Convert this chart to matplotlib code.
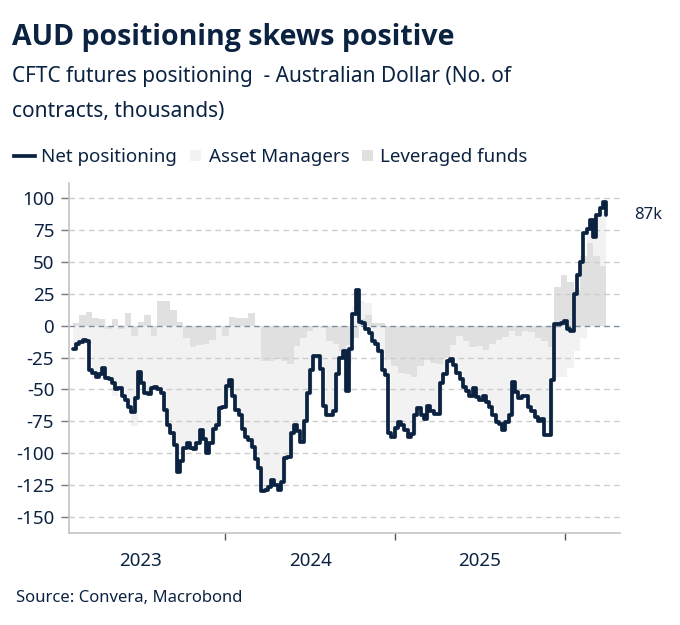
import numpy as np
import pandas as pd
import matplotlib
matplotlib.use("Agg")
import matplotlib.pyplot as plt
import matplotlib.dates as mdates
from matplotlib.lines import Line2D
from matplotlib.patches import Rectangle

plt.rcParams['font.family'] = ['Noto Sans', 'DejaVu Sans']
plt.rcParams['axes.unicode_minus'] = False

# weekly net positioning, thousands of contracts (CFTC, Tuesdays)
net_start = '2023-02-07'
net = [-18, -14, -13, -11, -12, -35, -37, -40, -38, -33,
       -41, -42, -45, -50, -49, -55, -58, -64, -68, -57,
       -36, -45, -53, -54, -49, -48, -50, -53, -66, -78,
       -84, -94, -115, -106, -96, -92, -96, -97, -92, -82,
       -89, -100, -92, -81, -78, -65, -64, -47, -43, -55,
       -66, -70, -81, -87, -90, -95, -105, -112, -130, -129,
       -127, -121, -125, -129, -123, -104, -103, -84, -78, -83,
       -91, -75, -53, -35, -24, -24, -34, -63, -70, -70,
       -67, -38, -25, -20, -51, -18, 9, 28, 3, 2,
       -3, -6, -12, -14, -20, -35, -39, -84, -87, -80,
       -76, -78, -82, -87, -85, -70, -65, -70, -73, -63,
       -67, -69, -69, -45, -38, -28, -26, -31, -37, -42,
       -48, -51, -55, -49, -56, -58, -55, -60, -64, -70,
       -76, -77, -82, -76, -70, -44, -52, -57, -55, -55,
       -64, -67, -72, -75, -73, -86, -86, -43, 1, 1,
       2, 4, -3, -4, 25, 40, 50, 73, 76, 83,
       70, 87, 92, 97, 87]

# fortnightly readings of the two trader groups
lev_funds = [2, 8, 11, 6, 5, -3, 5, -3, 10, -8,
             3, 8, -8, 19, 19, 12, 3, -10, -17, -15,
             -14, -11, 0, -8, 7, 6, 6, 10, 0, -28,
             -28, -26, -28, -30, -16, -10, -4, -1, -2, -12,
             -14, -20, -15, -10, 5, 8, 2, 2, -27, -32,
             -37, -38, -40, -32, -27, -29, -30, -25, -15, -8,
             -12, -17, -16, -19, -14, -11, -9, -4, -8, -4,
             -5, -10, -12, -17, 30, 40, 34, 28, 55, 65,
             55, 47, 48]
asset_mgrs = [-18, -14, -15, -42, -40, -38, -55, -46, -60, -71,
              -40, -55, -42, -52, -72, -90, -100, -86, -78, -77,
              -76, -81, -78, -56, -48, -70, -85, -97, -112, -100,
              -99, -99, -95, -73, -62, -78, -50, -23, -32, -58,
              -53, -5, -15, 15, 14, 10, -14, -22, -12, -55,
              -39, -44, -45, -33, -46, -38, -39, -13, -11, -29,
              -36, -38, -40, -36, -50, -65, -73, -66, -44, -51,
              -59, -62, -61, -69, -40, -40, -33, -20, -10, 8,
              32, 42, 38]

year_labels = ['2023', '2024', '2025']
y_ticks = [100, 75, 50, 25, 0, -25, -50, -75, -100, -125, -150]

NAVY = '#0b2341'
AM_C = '#f2f2f2'
LF_C = '#e1e0e1'

dates = pd.date_range(net_start, periods=len(net), freq='7D')
fdates = pd.date_range(net_start, periods=len(lev_funds), freq='14D')

fig = plt.figure(figsize=(6.8, 6.25), dpi=100)
ax = fig.add_axes([0.1022, 0.1477, 0.8096, 0.5595])

lf = np.array(lev_funds, dtype=float)
am = np.array(asset_mgrs, dtype=float)
lf_pos = np.clip(lf, 0, None)
lf_neg = np.clip(lf, None, 0)
am_pos = np.clip(am, 0, None)
am_neg = np.clip(am, None, 0)

ax.fill_between(fdates, 0, lf_pos, step='post', color=LF_C, lw=0, zorder=1)
ax.fill_between(fdates, 0, lf_neg, step='post', color=LF_C, lw=0, zorder=1)
ax.fill_between(fdates, lf_pos, lf_pos + am_pos, step='post', color=AM_C, lw=0, zorder=1)
ax.fill_between(fdates, lf_neg, lf_neg + am_neg, step='post', color=AM_C, lw=0, zorder=1)

for v in y_ticks:
    if v == 0:
        ax.axhline(0, color='#7d8ba3', lw=1.0, ls=(0, (4, 3)), zorder=2)
    else:
        ax.axhline(v, color='#cccccc', lw=1.0, ls=(0, (4, 3)), zorder=2)

ax.plot(dates, net, drawstyle='steps-post', color=NAVY, lw=2.7, zorder=3,
        solid_joinstyle='round', solid_capstyle='round')

ax.annotate(f"{net[-1]}k", xy=(dates[-1], net[-1]), xytext=(20, 0),
            textcoords='offset points', va='center', ha='left',
            fontsize=12, color=NAVY, annotation_clip=False)

ax.set_ylim(-162.5, 112)
ax.set_xlim(pd.Timestamp('2023-01-31'), pd.Timestamp('2026-04-30'))
ax.set_yticks(y_ticks)
ax.set_yticklabels([str(v) for v in y_ticks])
ax.tick_params(axis='y', length=6, width=1, color='#777777', pad=5,
               labelsize=13.5, labelcolor=NAVY)

ax.xaxis.set_major_locator(mdates.YearLocator())
ax.xaxis.set_major_formatter(plt.NullFormatter())
mids = [pd.Timestamp(f'{y}-07-02') for y in year_labels]
ax.set_xticks(mids, minor=True)
ax.set_xticklabels(year_labels, minor=True)
ax.tick_params(axis='x', which='major', length=5, width=1, color='#555555')
ax.tick_params(axis='x', which='minor', length=0, pad=14, labelsize=13.5,
               labelcolor=NAVY)

for s in ['top', 'right']:
    ax.spines[s].set_visible(False)
for s in ['left', 'bottom']:
    ax.spines[s].set_color('#c4c4c4')
    ax.spines[s].set_linewidth(1.2)

W, H = 680, 625


def fx(px):
    return px / W


def fy(py):
    return 1 - py / H


fig.text(fx(12), fy(45), 'AUD positioning skews positive', fontsize=20.5,
         fontweight='bold', family=['Open Sans', 'DejaVu Sans'], color=NAVY,
         va='baseline')
fig.text(fx(12), fy(82), 'CFTC futures positioning  - Australian Dollar (No. of',
         fontsize=15, color=NAVY, va='baseline')
fig.text(fx(12), fy(117), 'contracts, thousands)', fontsize=15, color=NAVY,
         va='baseline')

# legend
fig.add_artist(Line2D([fx(14), fx(35)], [fy(156), fy(156)], color=NAVY, lw=2.7))
fig.text(fx(41), fy(162), 'Net positioning', fontsize=13.5, color=NAVY, va='baseline')
fig.add_artist(Rectangle((fx(190), fy(161)), fx(11), 11 / H, color=AM_C, lw=0))
fig.text(fx(209), fy(162), 'Asset Managers', fontsize=13.5, color=NAVY, va='baseline')
fig.add_artist(Rectangle((fx(362), fy(161)), fx(11), 11 / H, color=LF_C, lw=0))
fig.text(fx(380), fy(162), 'Leveraged funds', fontsize=13.5, color=NAVY, va='baseline')

fig.text(fx(16), fy(602), 'Source: Convera, Macrobond', fontsize=12, color=NAVY,
         va='baseline')

fig.savefig('out.png', dpi=100, facecolor='white')
